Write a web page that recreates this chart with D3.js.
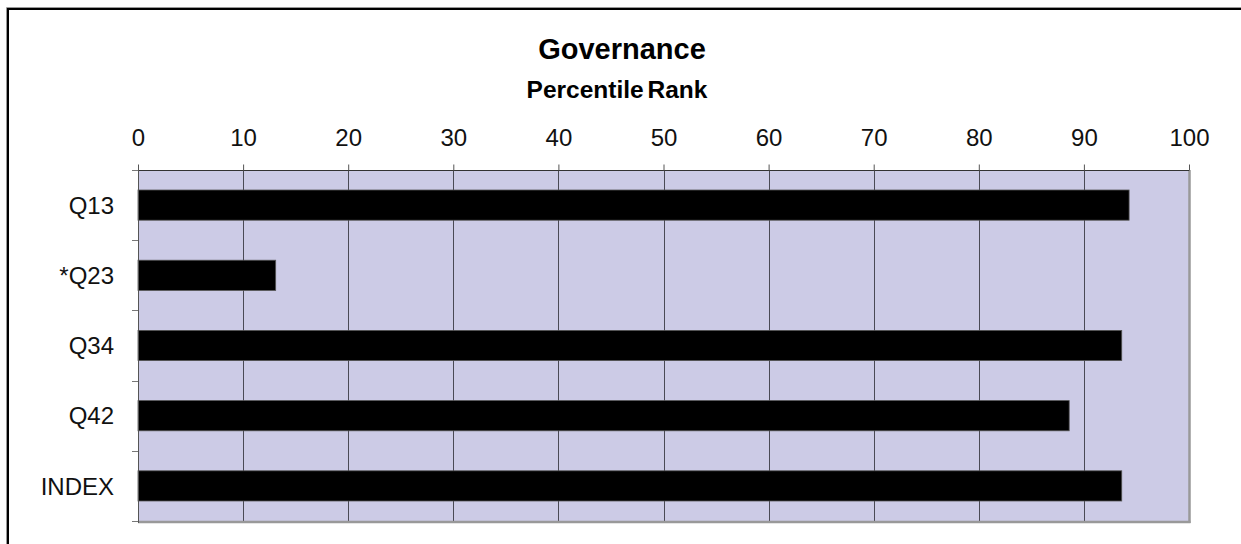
<!DOCTYPE html>
<html>
<head>
<meta charset="utf-8">
<script src="https://cdn.jsdelivr.net/npm/d3@7"></script>
<style>
  html, body { margin: 0; padding: 0; background: #fff; overflow: hidden; }
  svg { display: block; font-family: "Liberation Sans", Arial, sans-serif; }
</style>
</head>
<body>
<svg id="chart" width="1241" height="544"></svg>
<script>
// Governance percentile ranks by question
const categories = ["Q13", "*Q23", "Q34", "Q42", "INDEX"];
const values = [94.3, 13.1, 93.6, 88.6, 93.6];
const xTicks = [0, 10, 20, 30, 40, 50, 60, 70, 80, 90, 100];
const title = "Governance";
const subtitle = "Percentile Rank";

const svg = d3.select("#chart");
const W = 1241, H = 544;
const plot = { left: 138, right: 1189, top: 170, bottom: 521 };

// outer chart frame: top and left edges
svg.append("path")
  .attr("d", `M6.5,${H}V7.5H${W}`)
  .attr("fill", "none").attr("stroke", "#999").attr("stroke-width", 1);
svg.append("path")
  .attr("d", `M8,${H}V9H${W}`)
  .attr("fill", "none").attr("stroke", "#000").attr("stroke-width", 2);

const x = d3.scaleLinear().domain([0, 100]).range([plot.left, plot.right]);
const pad = 0.57;
const y = d3.scaleBand().domain(categories)
  .range([plot.top, plot.bottom])
  .paddingInner(pad).paddingOuter(pad / 2);
const band = d3.scaleBand().domain(categories).range([plot.top, plot.bottom]);

// plot background
svg.append("rect")
  .attr("x", plot.left).attr("y", plot.top)
  .attr("width", plot.right - plot.left).attr("height", plot.bottom - plot.top)
  .attr("fill", "#CCCBE6");

// vertical gridlines
svg.append("g").selectAll("line").data(xTicks.slice(1, -1)).join("line")
  .attr("x1", d => Math.round(x(d)) + 0.5).attr("x2", d => Math.round(x(d)) + 0.5)
  .attr("y1", plot.top).attr("y2", plot.bottom)
  .attr("stroke", "#4a4a55").attr("stroke-width", 1);

// right and bottom frame edges
svg.append("line")
  .attr("x1", plot.right + 0.5).attr("x2", plot.right + 0.5)
  .attr("y1", plot.top).attr("y2", plot.bottom + 2)
  .attr("stroke", "#999").attr("stroke-width", 2.5);
svg.append("line")
  .attr("x1", plot.left).attr("x2", plot.right + 1.5)
  .attr("y1", plot.bottom + 1).attr("y2", plot.bottom + 1)
  .attr("stroke", "#999").attr("stroke-width", 2.5);

// bars
svg.append("g").selectAll("rect").data(categories).join("rect")
  .attr("x", x(0))
  .attr("y", d => y(d))
  .attr("width", (d, i) => x(values[i]) - x(0))
  .attr("height", y.bandwidth())
  .attr("fill", "#000")
  .attr("stroke", "#555")
  .attr("stroke-width", 0.8);

// top axis
const xAxis = d3.axisTop(x).tickValues(xTicks).tickSize(6).tickPadding(19)
  .tickFormat(d3.format("d"));
const gx = svg.append("g").attr("transform", `translate(0,${plot.top + 0.5})`).call(xAxis);
gx.select(".domain").attr("stroke", "#333").attr("d", `M${plot.left},0H${plot.right}`);
gx.selectAll(".tick line").attr("stroke", "#555");
gx.selectAll("text").attr("font-size", 24).attr("fill", "#111")
  .attr("font-family", "Liberation Sans, Arial, sans-serif");

// left axis: ticks at category boundaries, labels at band centers
const boundaries = categories.map(c => band(c)).concat([plot.bottom]);
svg.append("g").selectAll("line").data(boundaries).join("line")
  .attr("x1", plot.left - 6).attr("x2", plot.left)
  .attr("y1", d => Math.round(d) + 0.5).attr("y2", d => Math.round(d) + 0.5)
  .attr("stroke", "#777").attr("stroke-width", 1);
svg.append("line")
  .attr("x1", plot.left + 0.5).attr("x2", plot.left + 0.5)
  .attr("y1", plot.top).attr("y2", plot.bottom + 2)
  .attr("stroke", "#555").attr("stroke-width", 1);
svg.append("g").selectAll("text").data(categories).join("text")
  .attr("x", plot.left - 24)
  .attr("y", d => y(d) + y.bandwidth() / 2)
  .attr("dy", "0.36em")
  .attr("text-anchor", "end")
  .attr("font-size", 24)
  .attr("fill", "#111")
  .text(d => d);

// titles
svg.append("text")
  .attr("x", 622).attr("y", 59)
  .attr("text-anchor", "middle")
  .attr("font-size", 29).attr("font-weight", "bold")
  .text(title);
svg.append("text")
  .attr("x", 617).attr("y", 98)
  .attr("text-anchor", "middle")
  .attr("font-size", 24.5).attr("font-weight", "bold")
  .attr("word-spacing", "-3")
  .text(subtitle);
</script>
</body>
</html>
